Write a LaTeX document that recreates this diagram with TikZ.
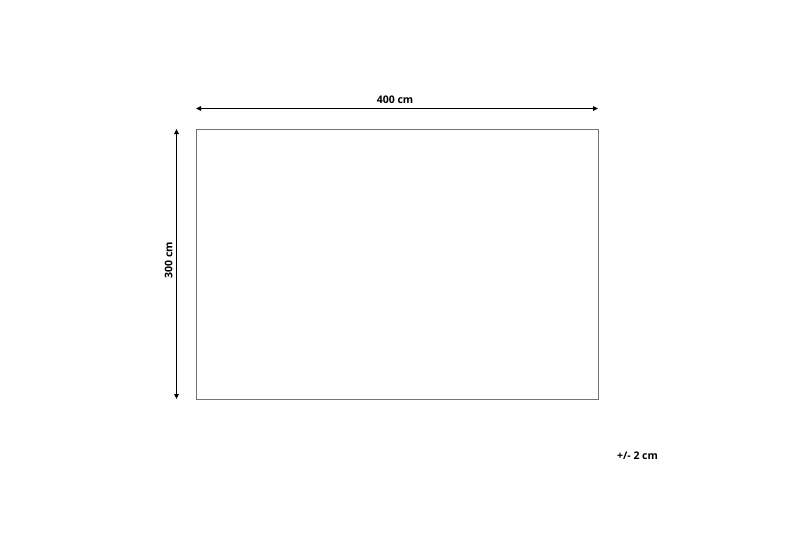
\documentclass[tikz,border=0pt]{standalone}
\usepackage{fontspec}
\setmainfont{Open Sans}
\usetikzlibrary{arrows.meta}
\begin{document}
\begin{tikzpicture}[x=1pt,y=-1pt,
  dimarrow/.style={line width=1.4pt,{Triangle[length=5pt,width=4.5pt]}-{Triangle[length=5pt,width=4.5pt]}},
  lbl/.style={font=\bfseries\fontsize{10.5}{12}\selectfont,inner sep=0pt}]
\useasboundingbox (0,0) rectangle (800,533);
\node[draw=black!55,line width=0.9pt,minimum width=402pt,minimum height=270pt,inner sep=0pt,anchor=north west] (rug) at (196,129) {};
\coordinate (tl) at (196,108.5);
\coordinate (tr) at (598,108.5);
\coordinate (lt) at (176.5,129);
\coordinate (lb) at (176.5,399);
\draw[dimarrow] (tl) -- (tr);
\draw[dimarrow] (lt) -- (lb);
\node[lbl] (w) at (395,100) {400 cm};
\node[lbl,rotate=90] (h) at (168.5,260) {300 cm};
\node[lbl] (tol) at (637.5,456) {+/- 2 cm};
\end{tikzpicture}
\end{document}
